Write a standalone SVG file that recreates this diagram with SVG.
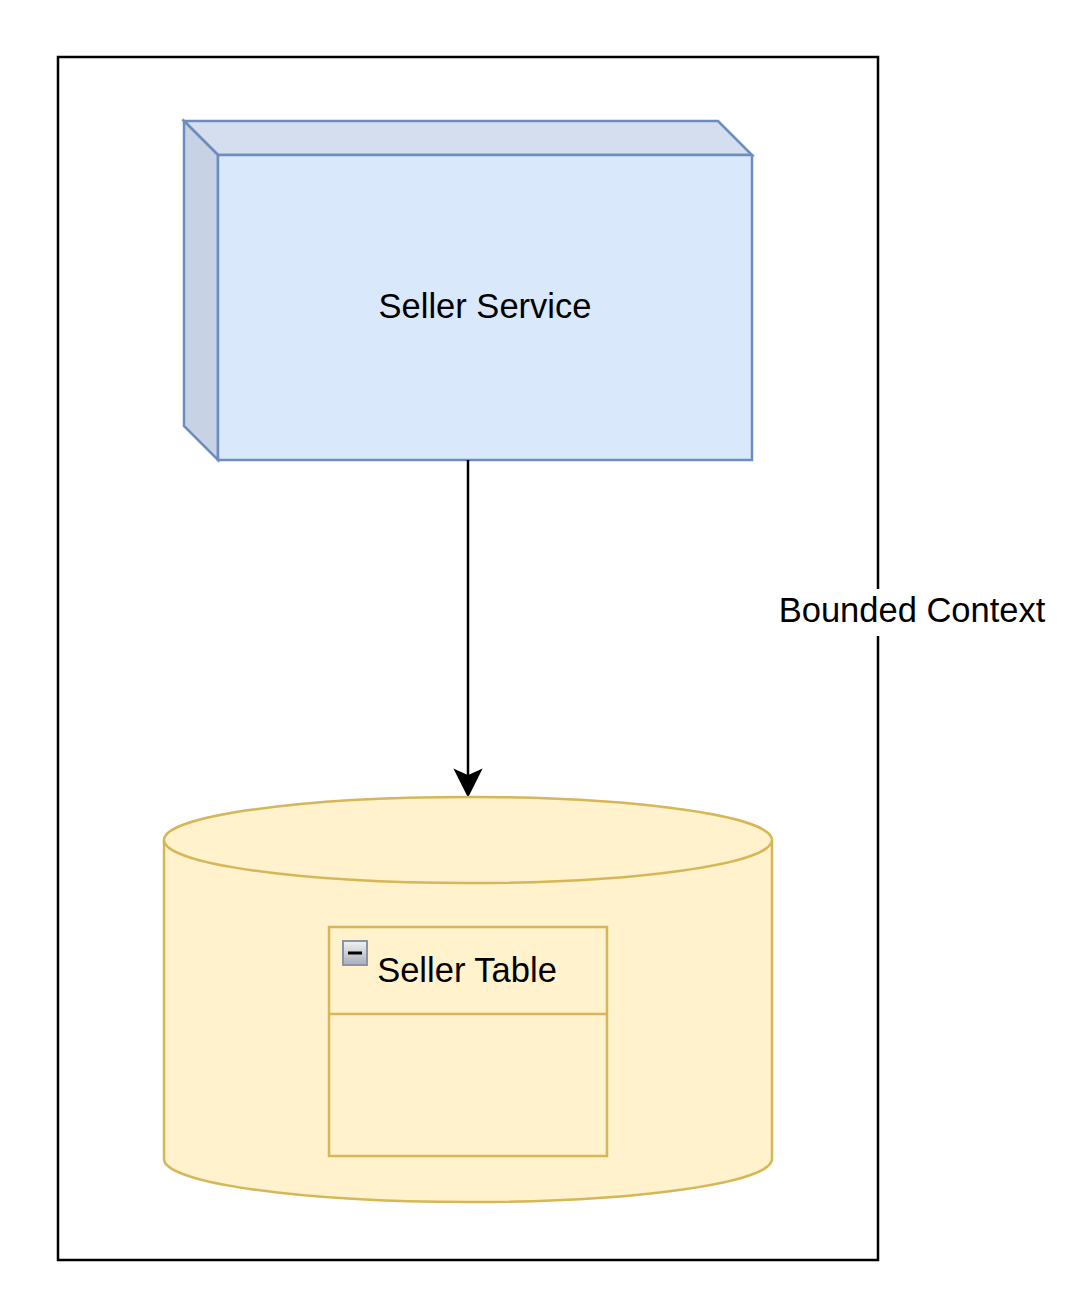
<svg xmlns="http://www.w3.org/2000/svg" width="1074" height="1308" viewBox="0 0 1074 1308">
<defs>
<style>
text{font-family:"Liberation Sans",Arial,Helvetica,sans-serif;font-size:34.5px;fill:#000}
.blue{stroke:#6c8ebf;stroke-width:2.5;stroke-linejoin:miter}
.yellow{fill:#fff2cc;stroke:#d6b656;stroke-width:2.5}
</style>
<linearGradient id="btn" x1="0" y1="0" x2="0" y2="1">
<stop offset="0" stop-color="#f2f2f2"/>
<stop offset="1" stop-color="#a8adb8"/>
</linearGradient>
</defs>
<rect width="1074" height="1308" fill="#fff"/>
<g id="bounded-context">
<rect x="58" y="57" width="820" height="1203" fill="none" stroke="#000" stroke-width="2.5"/>
<rect x="776" y="589" width="274" height="47" fill="#fff"/>
<text x="912" y="622" text-anchor="middle">Bounded Context</text>
</g>
<g id="seller-service">
<path class="blue" d="M184,121 L718,121 L752,155 L218,155 Z" fill="#d4deef"/>
<path class="blue" d="M184,121 L218,155 L218,460 L184,426 Z" fill="#c7d2e4"/>
<rect class="blue" x="218" y="155" width="534" height="305" fill="#dae8fc"/>
<text x="485" y="318" text-anchor="middle">Seller Service</text>
</g>
<g id="connectors">
<line x1="468" y1="460" x2="468" y2="778" stroke="#000" stroke-width="2.5"/>
<path d="M468,796 L455,770 L468,776 L481,770 Z" fill="#000" stroke="#000" stroke-width="1.5"/>
</g>
<g id="database">
<path class="yellow" d="M164,840 A304,43 0 0 1 772,840 L772,1159 A304,43 0 0 1 164,1159 Z"/>
<path class="yellow" fill="none" d="M164,840 A304,43 0 0 0 772,840"/>
</g>
<g id="seller-table">
<rect class="yellow" x="329" y="927" width="278" height="229"/>
<line x1="329" y1="1014" x2="607" y2="1014" stroke="#d6b656" stroke-width="2.5"/>
<rect x="343" y="941" width="24" height="24" fill="url(#btn)" stroke="#8c93a6" stroke-width="2"/>
<line x1="348" y1="953" x2="362" y2="953" stroke="#000" stroke-width="3"/>
<text x="467" y="982" text-anchor="middle">Seller Table</text>
</g>
</svg>
